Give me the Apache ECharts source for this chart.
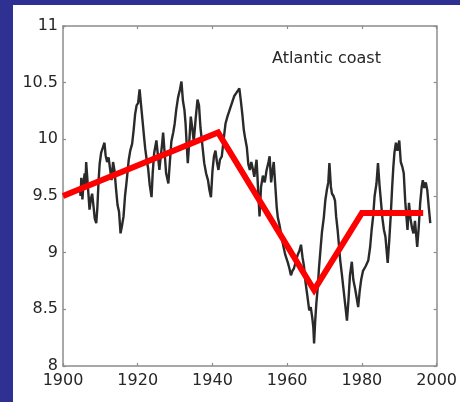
<!DOCTYPE html>
<html>
<head>
<meta charset="utf-8">
<style>
  html, body { margin: 0; padding: 0; background: #2e3192; }
  #chart { width: 460px; height: 402px; }
</style>
<script src="https://cdn.jsdelivr.net/npm/echarts@6/dist/echarts.min.js"></script>
</head>
<body>
<div id="chart"></div>
<script>
// Annual-scale record, Atlantic coast
const levelYears = [
  1904.5, 1904.7, 1904.9, 1905.2, 1905.5, 1905.8, 1906.0, 1906.2, 1906.5, 1906.8, 1907.1, 1907.5,
  1907.8, 1908.2, 1908.5, 1908.9, 1909.2, 1909.5, 1909.8, 1910.2, 1910.6, 1911.1,
  1911.4, 1911.8, 1912.2, 1912.6, 1913.0, 1913.4, 1913.8, 1914.2, 1914.6, 1915.0,
  1915.4, 1915.8, 1916.2, 1916.6, 1917.0, 1917.6, 1918.0, 1918.5, 1918.9, 1919.3,
  1919.7, 1920.1, 1920.5, 1920.9, 1921.3, 1921.7, 1922.0, 1922.4, 1922.8, 1923.2,
  1923.7, 1924.0, 1924.4, 1925.0, 1925.4, 1925.8, 1926.2, 1926.5, 1926.8, 1927.2,
  1927.6, 1928.2, 1928.6, 1929.0, 1929.5, 1929.9, 1930.3, 1930.8, 1931.3, 1931.7,
  1932.1, 1932.5, 1932.8, 1933.1, 1933.4, 1933.8, 1934.2, 1934.6, 1935.0, 1935.5,
  1936.0, 1936.4, 1936.8, 1937.2, 1937.8, 1938.3, 1938.8, 1939.2, 1939.6, 1940.0,
  1940.4, 1940.8, 1941.2, 1941.6, 1942.0, 1942.5, 1943.0, 1943.5, 1944.0, 1944.6,
  1945.2, 1945.8, 1946.4, 1947.2, 1947.6, 1948.0, 1948.4, 1948.8, 1949.2, 1949.6,
  1950.0, 1950.4, 1950.8, 1951.2, 1951.8, 1952.0, 1952.3, 1952.6, 1953.0, 1953.5,
  1954.0, 1954.5, 1955.0, 1955.3, 1955.7, 1956.0, 1956.4, 1956.8, 1957.2, 1957.5,
  1957.9, 1958.3, 1958.7, 1959.1, 1959.5, 1960.2, 1960.6, 1961.0, 1961.4, 1961.8,
  1962.3, 1962.8, 1963.3, 1963.7, 1964.1, 1964.5, 1964.9, 1965.4, 1965.9, 1966.3,
  1966.7, 1967.0, 1967.2, 1967.5, 1967.8, 1968.2, 1968.5, 1968.9, 1969.3, 1969.8,
  1970.2, 1970.6, 1971.0, 1971.3, 1971.7, 1972.0, 1972.4, 1972.8, 1973.1, 1973.5,
  1973.9, 1974.2, 1974.6, 1975.0, 1975.5, 1976.0, 1976.4, 1976.8, 1977.3, 1977.7,
  1978.2, 1978.6, 1979.0, 1979.4, 1979.8, 1980.3, 1981.0, 1981.7, 1982.2, 1982.6,
  1983.0, 1983.4, 1983.9, 1984.3, 1984.7, 1985.1, 1985.5, 1985.9, 1986.3, 1986.9,
  1987.3, 1987.7, 1988.1, 1988.4, 1988.7, 1989.1, 1989.5, 1990.0, 1990.4, 1990.8,
  1991.2, 1991.6, 1992.2, 1992.6, 1993.0, 1993.4, 1993.8, 1994.2, 1994.8, 1995.2,
  1995.6, 1996.0, 1996.3, 1996.7, 1997.1, 1997.5, 1997.9, 1998.3
];
const levelValues = [
  9.58, 9.50, 9.66, 9.47, 9.62, 9.70, 9.60, 9.80, 9.66, 9.52, 9.38, 9.48,
  9.52, 9.40, 9.30, 9.26, 9.40, 9.62, 9.78, 9.88, 9.92, 9.97,
  9.86, 9.80, 9.84, 9.74, 9.64, 9.80, 9.72, 9.56, 9.42, 9.36,
  9.17, 9.24, 9.32, 9.50, 9.62, 9.82, 9.90, 9.96, 10.08, 10.22,
  10.30, 10.32, 10.44, 10.30, 10.16, 10.02, 9.92, 9.82, 9.74, 9.60,
  9.49, 9.70, 9.88, 9.99, 9.86, 9.73, 9.86, 9.95, 10.06, 9.88,
  9.70, 9.61, 9.80, 9.98, 10.06, 10.14, 10.26, 10.37, 10.44, 10.51,
  10.34, 10.26, 10.14, 9.96, 9.79, 9.98, 10.20, 10.10, 9.98, 10.18,
  10.35, 10.30, 10.10, 9.98, 9.79, 9.70, 9.64, 9.55, 9.49, 9.72,
  9.85, 9.90, 9.80, 9.73, 9.82, 9.85, 10.00, 10.14, 10.20, 10.26,
  10.32, 10.38, 10.41, 10.45, 10.34, 10.22, 10.08, 10.00, 9.93, 9.78,
  9.73, 9.80, 9.74, 9.67, 9.82, 9.70, 9.50, 9.32, 9.58, 9.68,
  9.62, 9.73, 9.80, 9.85, 9.62, 9.70, 9.80, 9.60, 9.40, 9.31,
  9.25, 9.18, 9.10, 9.04, 8.98, 8.91, 8.86, 8.80, 8.84, 8.86,
  8.92, 8.98, 9.02, 9.07, 8.96, 8.88, 8.74, 8.62, 8.49, 8.52,
  8.43, 8.34, 8.20, 8.40, 8.55, 8.70, 8.86, 9.02, 9.18, 9.31,
  9.46, 9.55, 9.62, 9.79, 9.58, 9.52, 9.50, 9.46, 9.32, 9.20,
  9.05, 8.93, 8.82, 8.70, 8.55, 8.40, 8.58, 8.80, 8.92, 8.76,
  8.68, 8.60, 8.52, 8.66, 8.76, 8.84, 8.88, 8.93, 9.05, 9.20,
  9.32, 9.50, 9.61, 9.79, 9.60, 9.45, 9.30, 9.20, 9.14, 8.91,
  9.10, 9.32, 9.58, 9.75, 9.88, 9.97, 9.90, 9.99, 9.80, 9.76,
  9.70, 9.45, 9.20, 9.44, 9.30, 9.22, 9.17, 9.28, 9.05, 9.22,
  9.44, 9.58, 9.64, 9.57, 9.62, 9.55, 9.40, 9.26
];

// Piecewise trend segments
const trendYears = [1900, 1941.5, 1967.2, 1980, 1996.4];
const trendValues = [9.5, 10.06, 8.67, 9.35, 9.35];

// Axis ticks
const xTicks = { min: 1900, max: 2000, step: 20 };
const yTicks = { min: 8, max: 11, step: 0.5 };

const panelLabel = 'Atlantic coast';

const pairs = (xs, ys) => xs.map((x, i) => [x, ys[i]]);

const chart = echarts.init(document.getElementById('chart'), null, { renderer: 'canvas' });

const axisLine = { show: true, lineStyle: { color: '#8c8c8c', width: 1.5 } };
const tickStyle = { show: true, inside: true, length: 3, lineStyle: { color: '#8c8c8c', width: 1.2 } };
const labelFont = { fontFamily: 'DejaVu Sans', fontSize: 16, color: '#262626' };

chart.setOption({
  backgroundColor: '#2e3192',
  animation: false,
  graphic: [
    {
      type: 'rect',
      z: -10,
      shape: { x: 13, y: 5, width: 447, height: 397 },
      style: { fill: '#ffffff' }
    },
    {
      type: 'text',
      left: 272,
      top: 51,
      style: {
        text: panelLabel,
        font: '16px "DejaVu Sans"',
        fill: '#262626'
      }
    }
  ],
  grid: { left: 63, right: 17, top: 26, bottom: 36, containLabel: false },
  xAxis: [
    {
      type: 'value',
      min: xTicks.min, max: xTicks.max, interval: xTicks.step,
      axisLine, axisTick: tickStyle,
      axisLabel: Object.assign({ margin: 7, formatter: v => String(v) }, labelFont),
      splitLine: { show: false }
    },
    {
      type: 'value', position: 'top',
      min: xTicks.min, max: xTicks.max, interval: xTicks.step,
      axisLine, axisTick: tickStyle,
      axisLabel: { show: false },
      splitLine: { show: false }
    }
  ],
  yAxis: [
    {
      type: 'value',
      min: yTicks.min, max: yTicks.max, interval: yTicks.step,
      axisLine, axisTick: tickStyle,
      axisLabel: Object.assign({ margin: 5, formatter: v => String(v) }, labelFont),
      splitLine: { show: false }
    },
    {
      type: 'value', position: 'right',
      min: yTicks.min, max: yTicks.max, interval: yTicks.step,
      axisLine, axisTick: tickStyle,
      axisLabel: { show: false },
      splitLine: { show: false }
    }
  ],
  series: [
    {
      type: 'line',
      data: pairs(levelYears, levelValues),
      showSymbol: false,
      lineStyle: { color: '#2a2a2a', width: 2.4 },
      z: 2
    },
    {
      type: 'line',
      data: pairs(trendYears, trendValues),
      showSymbol: false,
      lineStyle: { color: '#ff0000', width: 6, join: 'miter' },
      z: 3
    }
  ]
});
</script>
</body>
</html>
